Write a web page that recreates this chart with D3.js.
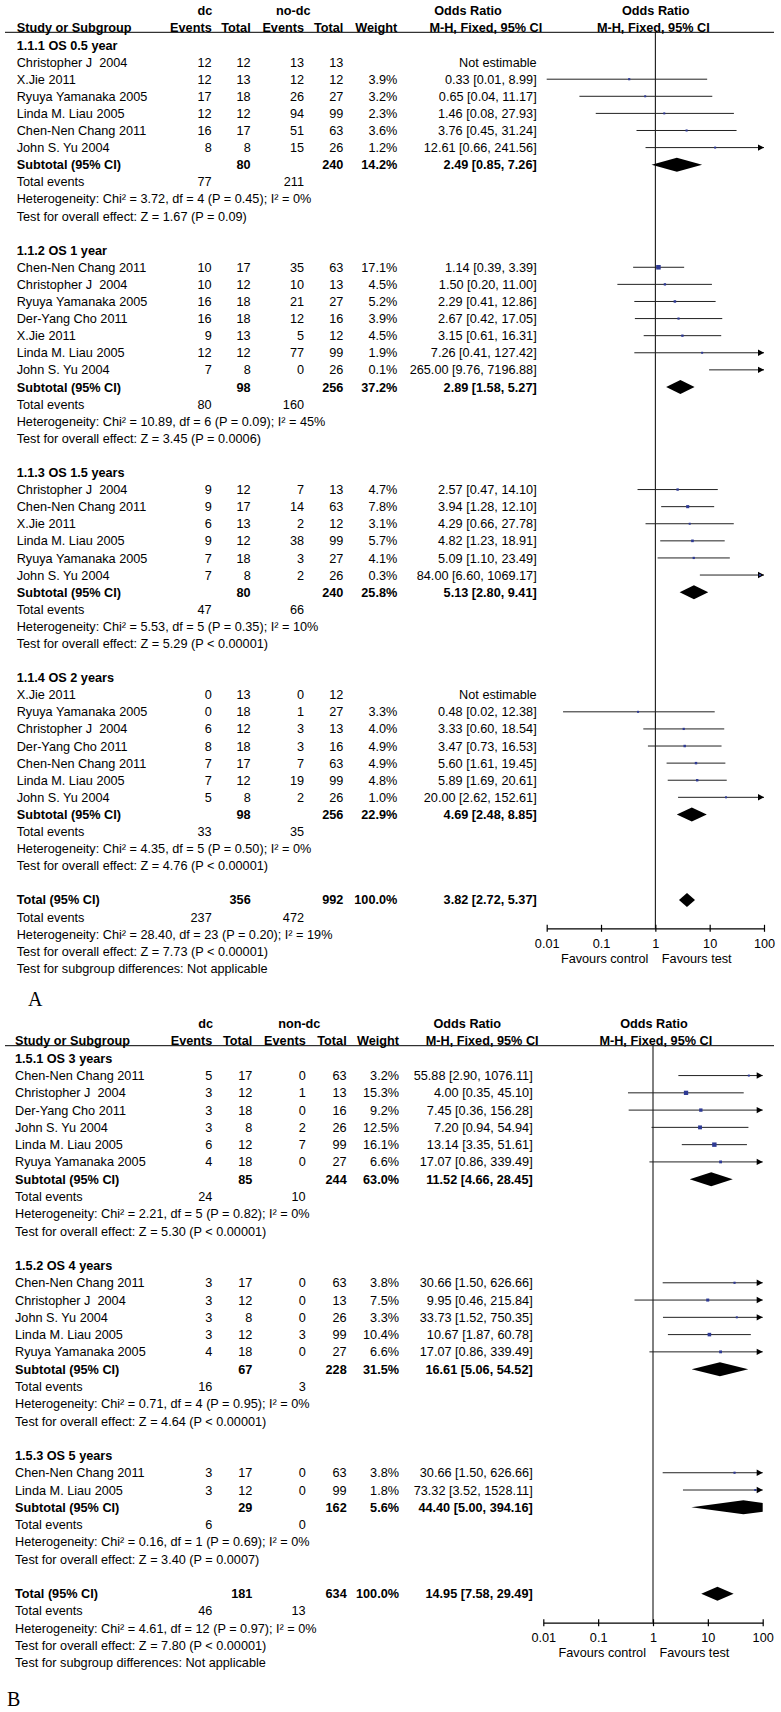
<!DOCTYPE html>
<html><head><meta charset="utf-8">
<script src="https://cdn.jsdelivr.net/npm/d3@7"></script>
<style>
html,body{margin:0;padding:0;background:#fff;}
svg{display:block;}
text{font-family:'Liberation Sans',Arial,sans-serif;font-size:12.7px;fill:#000;white-space:pre;}
</style></head>
<body>
<svg id="chart" width="781" height="1712"></svg>
<script>
// ---------------- DATA: Panel A ----------------
const groupTitlesA = ["1.1.1 OS 0.5 year", "1.1.2 OS 1 year", "1.1.3 OS 1.5 years", "1.1.4 OS 2 years"];
const studiesA1 = [
  {name:"Christopher J  2004", e1:12, n1:12, e2:13, n2:13, w:null, or:null, lo:null, hi:null},
  {name:"X.Jie 2011", e1:12, n1:13, e2:12, n2:12, w:3.9, or:0.33, lo:0.01, hi:8.99},
  {name:"Ryuya Yamanaka 2005", e1:17, n1:18, e2:26, n2:27, w:3.2, or:0.65, lo:0.04, hi:11.17},
  {name:"Linda M. Liau 2005", e1:12, n1:12, e2:94, n2:99, w:2.3, or:1.46, lo:0.08, hi:27.93},
  {name:"Chen-Nen Chang 2011", e1:16, n1:17, e2:51, n2:63, w:3.6, or:3.76, lo:0.45, hi:31.24},
  {name:"John S. Yu 2004", e1:8, n1:8, e2:15, n2:26, w:1.2, or:12.61, lo:0.66, hi:241.56}
];
const studiesA2 = [
  {name:"Chen-Nen Chang 2011", e1:10, n1:17, e2:35, n2:63, w:17.1, or:1.14, lo:0.39, hi:3.39},
  {name:"Christopher J  2004", e1:10, n1:12, e2:10, n2:13, w:4.5, or:1.50, lo:0.20, hi:11.00},
  {name:"Ryuya Yamanaka 2005", e1:16, n1:18, e2:21, n2:27, w:5.2, or:2.29, lo:0.41, hi:12.86},
  {name:"Der-Yang Cho 2011", e1:16, n1:18, e2:12, n2:16, w:3.9, or:2.67, lo:0.42, hi:17.05},
  {name:"X.Jie 2011", e1:9, n1:13, e2:5, n2:12, w:4.5, or:3.15, lo:0.61, hi:16.31},
  {name:"Linda M. Liau 2005", e1:12, n1:12, e2:77, n2:99, w:1.9, or:7.26, lo:0.41, hi:127.42},
  {name:"John S. Yu 2004", e1:7, n1:8, e2:0, n2:26, w:0.1, or:265.00, lo:9.76, hi:7196.88}
];
const studiesA3 = [
  {name:"Christopher J  2004", e1:9, n1:12, e2:7, n2:13, w:4.7, or:2.57, lo:0.47, hi:14.10},
  {name:"Chen-Nen Chang 2011", e1:9, n1:17, e2:14, n2:63, w:7.8, or:3.94, lo:1.28, hi:12.10},
  {name:"X.Jie 2011", e1:6, n1:13, e2:2, n2:12, w:3.1, or:4.29, lo:0.66, hi:27.78},
  {name:"Linda M. Liau 2005", e1:9, n1:12, e2:38, n2:99, w:5.7, or:4.82, lo:1.23, hi:18.91},
  {name:"Ryuya Yamanaka 2005", e1:7, n1:18, e2:3, n2:27, w:4.1, or:5.09, lo:1.10, hi:23.49},
  {name:"John S. Yu 2004", e1:7, n1:8, e2:2, n2:26, w:0.3, or:84.00, lo:6.60, hi:1069.17}
];
const studiesA4 = [
  {name:"X.Jie 2011", e1:0, n1:13, e2:0, n2:12, w:null, or:null, lo:null, hi:null},
  {name:"Ryuya Yamanaka 2005", e1:0, n1:18, e2:1, n2:27, w:3.3, or:0.48, lo:0.02, hi:12.38},
  {name:"Christopher J  2004", e1:6, n1:12, e2:3, n2:13, w:4.0, or:3.33, lo:0.60, hi:18.54},
  {name:"Der-Yang Cho 2011", e1:8, n1:18, e2:3, n2:16, w:4.9, or:3.47, lo:0.73, hi:16.53},
  {name:"Chen-Nen Chang 2011", e1:7, n1:17, e2:7, n2:63, w:4.9, or:5.60, lo:1.61, hi:19.45},
  {name:"Linda M. Liau 2005", e1:7, n1:12, e2:19, n2:99, w:4.8, or:5.89, lo:1.69, hi:20.61},
  {name:"John S. Yu 2004", e1:5, n1:8, e2:2, n2:26, w:1.0, or:20.00, lo:2.62, hi:152.61}
];
const subtotalsA = [
  {n1:80, n2:240, w:14.2, or:2.49, lo:0.85, hi:7.26},
  {n1:98, n2:256, w:37.2, or:2.89, lo:1.58, hi:5.27},
  {n1:80, n2:240, w:25.8, or:5.13, lo:2.80, hi:9.41},
  {n1:98, n2:256, w:22.9, or:4.69, lo:2.48, hi:8.85}
];
const totalEventsA = [[77,211],[80,160],[47,66],[33,35]];
const heterogeneityA = [
  "Heterogeneity: Chi² = 3.72, df = 4 (P = 0.45); I² = 0%",
  "Heterogeneity: Chi² = 10.89, df = 6 (P = 0.09); I² = 45%",
  "Heterogeneity: Chi² = 5.53, df = 5 (P = 0.35); I² = 10%",
  "Heterogeneity: Chi² = 4.35, df = 5 (P = 0.50); I² = 0%"
];
const overallTestA = [
  "Test for overall effect: Z = 1.67 (P = 0.09)",
  "Test for overall effect: Z = 3.45 (P = 0.0006)",
  "Test for overall effect: Z = 5.29 (P < 0.00001)",
  "Test for overall effect: Z = 4.76 (P < 0.00001)"
];
const totalA = {n1:356, n2:992, w:100.0, or:3.82, lo:2.72, hi:5.37};
const totalEventsAllA = [237, 472];
const totalTextsA = [
  "Heterogeneity: Chi² = 28.40, df = 23 (P = 0.20); I² = 19%",
  "Test for overall effect: Z = 7.73 (P < 0.00001)",
  "Test for subgroup differences: Not applicable"
];

// ---------------- DATA: Panel B ----------------
const groupTitlesB = ["1.5.1 OS 3 years", "1.5.2 OS 4 years", "1.5.3 OS 5 years"];
const studiesB1 = [
  {name:"Chen-Nen Chang 2011", e1:5, n1:17, e2:0, n2:63, w:3.2, or:55.88, lo:2.90, hi:1076.11},
  {name:"Christopher J  2004", e1:3, n1:12, e2:1, n2:13, w:15.3, or:4.00, lo:0.35, hi:45.10},
  {name:"Der-Yang Cho 2011", e1:3, n1:18, e2:0, n2:16, w:9.2, or:7.45, lo:0.36, hi:156.28},
  {name:"John S. Yu 2004", e1:3, n1:8, e2:2, n2:26, w:12.5, or:7.20, lo:0.94, hi:54.94},
  {name:"Linda M. Liau 2005", e1:6, n1:12, e2:7, n2:99, w:16.1, or:13.14, lo:3.35, hi:51.61},
  {name:"Ryuya Yamanaka 2005", e1:4, n1:18, e2:0, n2:27, w:6.6, or:17.07, lo:0.86, hi:339.49}
];
const studiesB2 = [
  {name:"Chen-Nen Chang 2011", e1:3, n1:17, e2:0, n2:63, w:3.8, or:30.66, lo:1.50, hi:626.66},
  {name:"Christopher J  2004", e1:3, n1:12, e2:0, n2:13, w:7.5, or:9.95, lo:0.46, hi:215.84},
  {name:"John S. Yu 2004", e1:3, n1:8, e2:0, n2:26, w:3.3, or:33.73, lo:1.52, hi:750.35},
  {name:"Linda M. Liau 2005", e1:3, n1:12, e2:3, n2:99, w:10.4, or:10.67, lo:1.87, hi:60.78},
  {name:"Ryuya Yamanaka 2005", e1:4, n1:18, e2:0, n2:27, w:6.6, or:17.07, lo:0.86, hi:339.49}
];
const studiesB3 = [
  {name:"Chen-Nen Chang 2011", e1:3, n1:17, e2:0, n2:63, w:3.8, or:30.66, lo:1.50, hi:626.66},
  {name:"Linda M. Liau 2005", e1:3, n1:12, e2:0, n2:99, w:1.8, or:73.32, lo:3.52, hi:1528.11}
];
const subtotalsB = [
  {n1:85, n2:244, w:63.0, or:11.52, lo:4.66, hi:28.45},
  {n1:67, n2:228, w:31.5, or:16.61, lo:5.06, hi:54.52},
  {n1:29, n2:162, w:5.6, or:44.40, lo:5.00, hi:394.16}
];
const totalEventsB = [[24,10],[16,3],[6,0]];
const heterogeneityB = [
  "Heterogeneity: Chi² = 2.21, df = 5 (P = 0.82); I² = 0%",
  "Heterogeneity: Chi² = 0.71, df = 4 (P = 0.95); I² = 0%",
  "Heterogeneity: Chi² = 0.16, df = 1 (P = 0.69); I² = 0%"
];
const overallTestB = [
  "Test for overall effect: Z = 5.30 (P < 0.00001)",
  "Test for overall effect: Z = 4.64 (P < 0.00001)",
  "Test for overall effect: Z = 3.40 (P = 0.0007)"
];
const totalB = {n1:181, n2:634, w:100.0, or:14.95, lo:7.58, hi:29.49};
const totalEventsAllB = [46, 13];
const totalTextsB = [
  "Heterogeneity: Chi² = 4.61, df = 12 (P = 0.97); I² = 0%",
  "Test for overall effect: Z = 7.80 (P < 0.00001)",
  "Test for subgroup differences: Not applicable"
];

const axisTicks = [0.01, 0.1, 1, 10, 100];
const axisTickLabels = ["0.01", "0.1", "1", "10", "100"];

// ---------------- LAYOUT ----------------
const panels = [
  {
    label:"A", labelX:28, labelY:1006,
    groups:[studiesA1, studiesA2, studiesA3, studiesA4], titles:groupTitlesA, subtotals:subtotalsA,
    events:totalEventsA, het:heterogeneityA, test:overallTestA, total:totalA, totalEvents:totalEventsAllA, totalTexts:totalTextsA,
    slotTop:45, slotBottom:968.3,
    cols:{label:16.7, e1:211.7, n1:250.7, e2:304, n2:343.3, w:397.3, or:536.7},
    head:{y1:10.7, y2:27.3, line:32.3, dc:205, nodc:293.3, nodcText:"no-dc", or1:468, mh1:485.8, or2:655.8, mh2:653.3},
    xRange:[546.7, 764], axisY:928.3, tickLabelY:943.3, favY:958.3
  },
  {
    label:"B", labelX:7, labelY:1706,
    groups:[studiesB1, studiesB2, studiesB3], titles:groupTitlesB, subtotals:subtotalsB,
    events:totalEventsB, het:heterogeneityB, test:overallTestB, total:totalB, totalEvents:totalEventsAllB, totalTexts:totalTextsB,
    slotTop:1058.3, slotBottom:1662.7,
    cols:{label:15, e1:212.3, n1:252.3, e2:305.7, n2:346.7, w:399, or:532.7},
    head:{y1:1023.3, y2:1040.7, line:1045.7, dc:205.7, nodc:299.3, nodcText:"non-dc", or1:467.3, mh1:482.2, or2:654, mh2:655.8},
    xRange:[543.3, 762.7], axisY:1622.7, tickLabelY:1637.3, favY:1652.3
  }
];

const svg = d3.select("#chart");
const f2 = d3.format(".2f"), f1 = d3.format(".1f");
const orText = d => d.or == null ? "Not estimable" : `${f2(d.or)} [${f2(d.lo)}, ${f2(d.hi)}]`;
const wText = d => d.w == null ? "" : f1(d.w) + "%";
const squareColor = "#2e3a94";

function txt(g, x, y, s, opts={}) {
  const t = g.append("text").attr("x", x).attr("y", y).attr("dy", "0.36em").text(s);
  if (opts.anchor) t.attr("text-anchor", opts.anchor);
  if (opts.bold) t.attr("font-weight", "bold");
  return t;
}

panels.forEach((p, pi) => {
  const g = svg.append("g");
  // build rows
  const rows = [];
  let slot = 0;
  p.groups.forEach((studies, gi) => {
    rows.push({type:"title", slot:slot++, text:p.titles[gi]});
    studies.forEach(s => rows.push(Object.assign({type:"study", slot:slot++}, s)));
    rows.push(Object.assign({type:"subtotal", slot:slot++, name:"Subtotal (95% CI)"}, p.subtotals[gi]));
    rows.push({type:"events", slot:slot++, e1:p.events[gi][0], e2:p.events[gi][1]});
    rows.push({type:"note", slot:slot++, text:p.het[gi]});
    rows.push({type:"note", slot:slot++, text:p.test[gi]});
    slot++;
  });
  rows.push(Object.assign({type:"subtotal", slot:slot++, name:"Total (95% CI)"}, p.total));
  rows.push({type:"events", slot:slot++, e1:p.totalEvents[0], e2:p.totalEvents[1]});
  p.totalTexts.forEach(t => rows.push({type:"note", slot:slot++, text:t}));

  const y = d3.scaleLinear().domain([0, slot - 1]).range([p.slotTop, p.slotBottom]);
  const x = d3.scaleLog().domain([0.01, 100]).range(p.xRange);
  const c = p.cols, h = p.head;

  // headers
  txt(g, h.dc, h.y1, "dc", {anchor:"middle", bold:true});
  txt(g, h.nodc, h.y1, h.nodcText, {anchor:"middle", bold:true});
  txt(g, h.or1, h.y1, "Odds Ratio", {anchor:"middle", bold:true});
  txt(g, h.or2, h.y1, "Odds Ratio", {anchor:"middle", bold:true});
  txt(g, c.label, h.y2, "Study or Subgroup", {bold:true});
  txt(g, c.e1, h.y2, "Events", {anchor:"end", bold:true});
  txt(g, c.n1, h.y2, "Total", {anchor:"end", bold:true});
  txt(g, c.e2, h.y2, "Events", {anchor:"end", bold:true});
  txt(g, c.n2, h.y2, "Total", {anchor:"end", bold:true});
  txt(g, c.w, h.y2, "Weight", {anchor:"end", bold:true});
  txt(g, h.mh1, h.y2, "M-H, Fixed, 95% CI", {anchor:"middle", bold:true});
  txt(g, h.mh2, h.y2, "M-H, Fixed, 95% CI", {anchor:"middle", bold:true});
  g.append("line").attr("x1", 5).attr("x2", 774).attr("y1", h.line).attr("y2", h.line)
    .attr("stroke", "#000").attr("stroke-width", 1);

  // null line
  g.append("line").attr("x1", x(1)).attr("x2", x(1)).attr("y1", h.line).attr("y2", p.axisY)
    .attr("stroke", "#000").attr("stroke-width", 1);

  // clip for marks
  const clipId = "clip" + pi;
  g.append("clipPath").attr("id", clipId).append("rect")
    .attr("x", p.xRange[0]).attr("y", 0).attr("width", p.xRange[1] - p.xRange[0]).attr("height", 1712);

  rows.forEach(r => {
    const yy = y(r.slot);
    if (r.type === "title") {
      txt(g, c.label, yy, r.text, {bold:true});
    } else if (r.type === "study") {
      txt(g, c.label, yy, r.name);
      txt(g, c.e1, yy, r.e1, {anchor:"end"});
      txt(g, c.n1, yy, r.n1, {anchor:"end"});
      txt(g, c.e2, yy, r.e2, {anchor:"end"});
      txt(g, c.n2, yy, r.n2, {anchor:"end"});
      txt(g, c.w, yy, wText(r), {anchor:"end"});
      txt(g, c.or, yy, orText(r), {anchor:"end"});
      if (r.or != null) {
        const [d0, d1] = x.domain();
        const xl = x(Math.max(r.lo, d0)), xr = x(Math.min(r.hi, d1));
        g.append("line").attr("x1", xl).attr("x2", xr).attr("y1", yy).attr("y2", yy)
          .attr("stroke", "#222").attr("stroke-width", 1);
        if (r.hi > d1) {
          g.append("path").attr("d", `M${xr},${yy} L${xr - 6},${yy - 3.2} L${xr - 6},${yy + 3.2} Z`).attr("fill", "#000");
        }
        if (r.lo < d0) {
          g.append("path").attr("d", `M${xl},${yy} L${xl + 6},${yy - 3.2} L${xl + 6},${yy + 3.2} Z`).attr("fill", "#000");
        }
        if (r.or >= d0 && r.or <= d1) {
          const s = Math.max(2, 1.1 * Math.sqrt(r.w));
          g.append("rect").attr("x", x(r.or) - s / 2).attr("y", yy - s / 2)
            .attr("width", s).attr("height", s).attr("fill", squareColor);
        }
      }
    } else if (r.type === "subtotal") {
      txt(g, c.label, yy, r.name, {bold:true});
      txt(g, c.n1, yy, r.n1, {anchor:"end", bold:true});
      txt(g, c.n2, yy, r.n2, {anchor:"end", bold:true});
      txt(g, c.w, yy, wText(r), {anchor:"end", bold:true});
      txt(g, c.or, yy, orText(r), {anchor:"end", bold:true});
      const hh = 7;
      g.append("path").attr("clip-path", `url(#${clipId})`)
        .attr("d", `M${x(r.lo)},${yy} L${x(r.or)},${yy - hh} L${x(r.hi)},${yy} L${x(r.or)},${yy + hh} Z`)
        .attr("fill", "#000");
    } else if (r.type === "events") {
      txt(g, c.label, yy, "Total events");
      txt(g, c.e1, yy, r.e1, {anchor:"end"});
      txt(g, c.e2, yy, r.e2, {anchor:"end"});
    } else if (r.type === "note") {
      txt(g, c.label, yy, r.text);
    }
  });

  // axis
  const axis = d3.axisBottom(x).tickValues(axisTicks)
    .tickFormat((d, i) => axisTickLabels[i]).tickSizeOuter(0).tickSizeInner(3.5).tickPadding(0);
  const ag = g.append("g").attr("transform", `translate(0,${p.axisY})`).call(axis);
  ag.select(".domain").attr("stroke", "#000").attr("stroke-width", 1.2);
  ag.selectAll(".tick line").attr("y1", -3.5).attr("y2", 3.5).attr("stroke", "#000").attr("stroke-width", 1.2);
  ag.selectAll(".tick text").attr("y", p.tickLabelY - p.axisY).attr("dy", "0.36em")
    .attr("font-size", null).attr("font-family", null).attr("fill", "#000");
  ag.attr("font-size", null).attr("font-family", null);

  txt(g, x(1) - 7, p.favY, "Favours control", {anchor:"end"});
  txt(g, x(1) + 6.5, p.favY, "Favours test", {anchor:"start"});

  // panel letter
  g.append("text").attr("x", p.labelX).attr("y", p.labelY).text(p.label)
    .style("font-family", "'Liberation Serif','DejaVu Serif',serif").style("font-size", "20px");
});
</script>
</body></html>
